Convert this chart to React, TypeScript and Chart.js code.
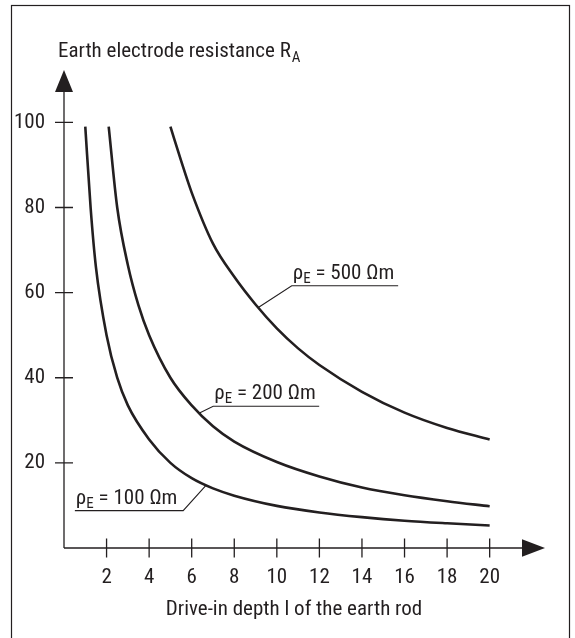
import React, { useEffect, useRef } from 'react';
import { Chart, registerables } from 'chart.js';

Chart.register(...registerables);

const INK = '#231f20';
const FONT = '"Roboto Condensed", "Liberation Sans", Arial, sans-serif';
const FS = 21;
const FS_SUB = 15;

// ---- data ----
const xTickValues = [2, 4, 6, 8, 10, 12, 14, 16, 18, 20];
const yTickValues = [20, 40, 60, 80, 100];

const depths100 = [1, 1.25, 1.5, 2, 2.5, 3, 4, 5, 6, 7, 8, 10, 12, 14, 16, 18, 20];
const resist100 = [99, 80, 66, 50, 40, 33.5, 25.5, 20, 16.4, 14, 12.3, 9.9, 8.35, 7.25, 6.4, 5.8, 5.3];

const depths200 = [2.1, 2.5, 3, 3.5, 4, 5, 6, 7, 8, 10, 12, 14, 16, 18, 20];
const resist200 = [99, 80, 66.5, 57, 50, 40, 33.5, 28.6, 25, 20.2, 16.8, 14.2, 12.4, 11, 9.8];

const depths500 = [5, 5.5, 6, 7, 8, 9, 10, 11, 12, 14, 16, 18, 20];
const resist500 = [99, 91, 83.5, 71.5, 63.7, 57.2, 51.6, 46.9, 43, 36.7, 31.8, 28.2, 25.5];

const rhoValues = ['100', '200', '500'];

const yTitle = 'Earth electrode resistance R';
const yTitleSub = 'A';
const xTitle = 'Drive-in depth l of the earth rod';

// label annotations in data units: underline from/to (x), underline level (y), leader point on curve
const labelFrom = [0.51, 7.01, 10.7];
const labelTo = [5.6, 11.99, 15.7];
const labelLevel = [8.77, 33.3, 61.6];
const leaderX = [6.65, 6.39, 9.13];
const leaderY = [14.6, 31.8, 56.5];

const toPoints = (xs: number[], ys: number[]) => xs.map((x, i) => ({ x, y: ys[i] }));

const decorPlugin = {
  id: 'decor',
  afterDraw(chart: any) {
    const { ctx, chartArea: ca } = chart;
    const xs = chart.scales.x;
    const ys = chart.scales.y;
    const x0 = xs.getPixelForValue(0);
    const y0 = ys.getPixelForValue(0);
    ctx.save();
    ctx.strokeStyle = INK;
    ctx.fillStyle = INK;

    // outer frame
    ctx.lineWidth = 1.2;
    ctx.strokeRect(11.5, 5.5, 558, 660);

    // axis lines
    ctx.lineWidth = 1.3;
    ctx.beginPath();
    ctx.moveTo(x0, y0);
    ctx.lineTo(x0, ca.top + 18);
    ctx.moveTo(x0, y0);
    ctx.lineTo(ca.right - 18, y0);
    ctx.stroke();

    // arrow heads
    ctx.beginPath();
    ctx.moveTo(x0, ca.top);
    ctx.lineTo(x0 - 9, ca.top + 22);
    ctx.lineTo(x0 + 9, ca.top + 22);
    ctx.closePath();
    ctx.fill();
    ctx.beginPath();
    ctx.moveTo(ca.right, y0);
    ctx.lineTo(ca.right - 23, y0 - 8.7);
    ctx.lineTo(ca.right - 23, y0 + 8.7);
    ctx.closePath();
    ctx.fill();

    // tick marks crossing the axes
    ctx.beginPath();
    yTickValues.forEach((v) => {
      const p = ys.getPixelForValue(v);
      ctx.moveTo(x0 - 9, p);
      ctx.lineTo(x0 + 9, p);
    });
    xTickValues.forEach((v) => {
      const p = xs.getPixelForValue(v);
      ctx.moveTo(p, y0 - 9.5);
      ctx.lineTo(p, y0 + 9.5);
    });
    ctx.stroke();

    // axis titles
    ctx.textBaseline = 'alphabetic';
    ctx.textAlign = 'left';
    ctx.font = `${FS}px ${FONT}`;
    ctx.fillText(yTitle, 58, 57);
    const tw = ctx.measureText(yTitle).width;
    ctx.font = `${FS_SUB}px ${FONT}`;
    ctx.fillText(yTitleSub, 58 + tw + 1, 62);

    ctx.font = `${FS}px ${FONT}`;
    ctx.textAlign = 'center';
    ctx.fillText(xTitle, 294, 615);

    // curve labels with underline and leader line
    ctx.lineWidth = 1.1;
    rhoValues.forEach((rho, i) => {
      const ux0 = xs.getPixelForValue(labelFrom[i]);
      const ux1 = xs.getPixelForValue(labelTo[i]);
      const uy = ys.getPixelForValue(labelLevel[i]);
      const px = xs.getPixelForValue(leaderX[i]);
      const py = ys.getPixelForValue(leaderY[i]);
      ctx.beginPath();
      if (Math.abs(px - ux0) < Math.abs(px - ux1)) {
        ctx.moveTo(px, py);
        ctx.lineTo(ux0, uy);
        ctx.lineTo(ux1, uy);
      } else {
        ctx.moveTo(ux0, uy);
        ctx.lineTo(ux1, uy);
        ctx.lineTo(px, py);
      }
      ctx.stroke();
      const by = uy - 7;
      let cx = ux0 + 1;
      ctx.textAlign = 'left';
      ctx.font = `${FS}px ${FONT}`;
      ctx.fillText('ρ', cx, by);
      cx += ctx.measureText('ρ').width;
      ctx.font = `${FS_SUB}px ${FONT}`;
      ctx.fillText('E', cx, by + 4);
      cx += ctx.measureText('E').width;
      ctx.font = `${FS}px ${FONT}`;
      ctx.fillText(` = ${rho} Ωm`, cx, by);
    });
    ctx.restore();
  },
};

export default function App() {
  const ref = useRef<HTMLCanvasElement>(null);

  useEffect(() => {
    if (!ref.current) return;
    const chart = new Chart(ref.current, {
      type: 'line',
      data: {
        datasets: [
          { data: toPoints(depths100, resist100) },
          { data: toPoints(depths200, resist200) },
          { data: toPoints(depths500, resist500) },
        ].map((d) => ({
          ...d,
          borderColor: INK,
          borderWidth: 2.6,
          pointRadius: 0,
          fill: false,
          cubicInterpolationMode: 'monotone' as const,
        })),
      },
      options: {
        animation: false,
        responsive: false,
        devicePixelRatio: 1,
        layout: { padding: { left: 0, top: 70, right: 30, bottom: 0 } },
        plugins: { legend: { display: false }, tooltip: { enabled: false } },
        scales: {
          x: {
            type: 'linear',
            min: 0,
            max: 22.6,
            grid: { display: false, drawTicks: false, tickLength: 0 },
            border: { display: false },
            afterFit: (s: any) => { s.height = 90; },
            afterBuildTicks: (s: any) => { s.ticks = xTickValues.map((value) => ({ value })); },
            ticks: { color: INK, font: { family: FONT, size: FS }, padding: 17, autoSkip: false, maxRotation: 0 },
          },
          y: {
            type: 'linear',
            min: 0,
            max: 112.3,
            grid: { display: false, drawTicks: false, tickLength: 0 },
            border: { display: false },
            afterFit: (s: any) => { s.width = 64; },
            afterBuildTicks: (s: any) => { s.ticks = yTickValues.map((value) => ({ value })); },
            ticks: { color: INK, font: { family: FONT, size: FS }, padding: 19 },
          },
        },
      },
      plugins: [decorPlugin],
    });
    return () => chart.destroy();
  }, []);

  return (
    <div style={{ position: 'absolute', left: 0, top: 0, width: 575, height: 638, background: '#fff' }}>
      <canvas ref={ref} width={575} height={638} style={{ width: 575, height: 638, display: 'block' }} />
    </div>
  );
}
